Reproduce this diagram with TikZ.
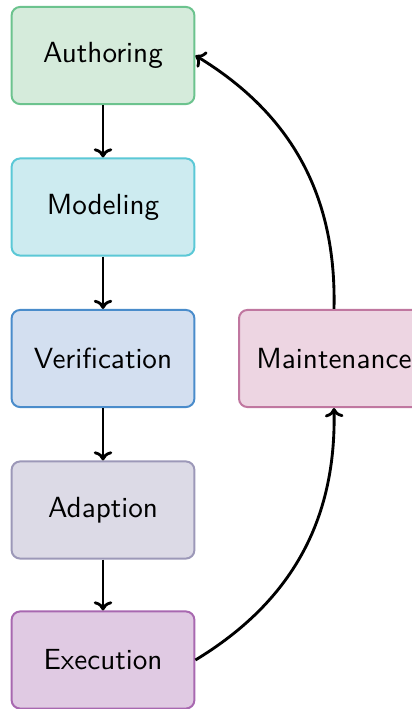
\documentclass[tikz,border=0pt]{standalone}
\usetikzlibrary{arrows.meta}
\definecolor{authF}{HTML}{D5EBDB}\definecolor{authD}{HTML}{6CC38E}
\definecolor{modF}{HTML}{CDEBF0}\definecolor{modD}{HTML}{5BC8D6}
\definecolor{verF}{HTML}{D3DFF0}\definecolor{verD}{HTML}{4A8CCB}
\definecolor{adaF}{HTML}{DCDAE6}\definecolor{adaD}{HTML}{9C98B8}
\definecolor{exeF}{HTML}{E0CAE3}\definecolor{exeD}{HTML}{A868B0}
\definecolor{maiF}{HTML}{EDD5E2}\definecolor{maiD}{HTML}{C077A0}
\tikzset{
  stage/.style={draw=#1D, fill=#1F, line width=0.7pt, rounded corners=3pt,
    minimum width=64pt, minimum height=34pt, inner sep=0pt,
    font=\sffamily\fontsize{10.2}{12}\selectfont, text=black},
  flow/.style={-{To[length=3.2pt,width=6.5pt]}, line width=1pt, black},
}
\begin{document}
\begin{tikzpicture}[x=0.35pt, y=-0.35pt]
  \useasboundingbox (0,0) rectangle (412,709);
  \node[stage=auth] (authoring)    at (103, 55.5)  {Authoring};
  \node[stage=mod]  (modeling)     at (103, 207)   {Modeling};
  \node[stage=ver]  (verification) at (103, 358.5) {Verification};
  \node[stage=ada]  (adaption)     at (103, 510)   {Adaption};
  \node[stage=exe]  (execution)    at (103, 660)   {Execution};
  \node[stage=mai, minimum width=66.5pt] (maintenance) at (334, 358.5) {Maintenance};

  \draw[flow] (authoring) -- (modeling);
  \draw[flow] (modeling) -- (verification);
  \draw[flow] (verification) -- (adaption);
  \draw[flow] (adaption) -- (execution);
  \draw[flow] (execution.east) to[bend right=30] (maintenance.south);
  \draw[flow] (maintenance.north) to[bend right=30] (authoring.east);
\end{tikzpicture}
\end{document}
